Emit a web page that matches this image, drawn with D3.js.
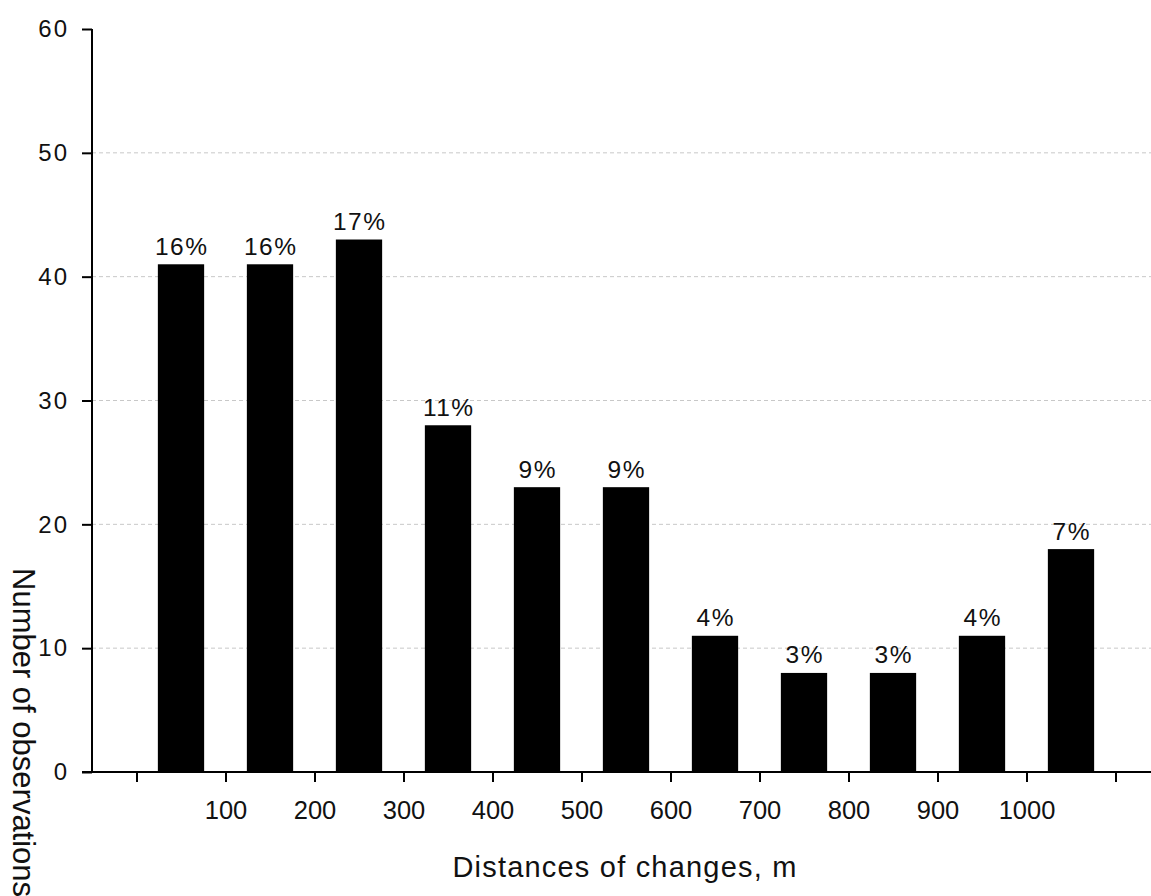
<!DOCTYPE html>
<html>
<head>
<meta charset="utf-8">
<script src="https://cdn.jsdelivr.net/npm/d3@7"></script>
<style>
  html, body { margin: 0; padding: 0; background: #fff; }
  svg { display: block; font-family: "Liberation Sans", Arial, sans-serif; }
</style>
</head>
<body>
<svg id="chart" width="1151" height="896"></svg>
<script>
// Bin start (m), counts and percentage labels
const binStarts = [0, 100, 200, 300, 400, 500, 600, 700, 800, 900, 1000];
const counts = [41, 41, 43, 28, 23, 23, 11, 8, 8, 11, 18];
const percentLabels = ["16%", "16%", "17%", "11%", "9%", "9%", "4%", "3%", "3%", "4%", "7%"];
const xTickValues = [0, 100, 200, 300, 400, 500, 600, 700, 800, 900, 1000, 1100];
const xTickLabels = ["", "100", "200", "300", "400", "500", "600", "700", "800", "900", "1000", ""];
const yTickValues = [0, 10, 20, 30, 40, 50, 60];
const gridValues = [10, 20, 30, 40, 50];

const svg = d3.select("#chart");

const x = d3.scaleLinear().domain([0, 1100]).range([136.5, 1115.5]);
const y = d3.scaleLinear().domain([0, 60]).range([772, 29]);

const axisLeftX = 92;
const axisRightX = 1151;
const binWidth = 100;
const barFrac = 0.52;

// Gridlines
svg.append("g")
  .selectAll("line")
  .data(gridValues)
  .join("line")
  .attr("x1", axisLeftX)
  .attr("x2", axisRightX)
  .attr("y1", d => y(d))
  .attr("y2", d => y(d))
  .attr("stroke", "#c8c8c8")
  .attr("stroke-width", 1)
  .attr("stroke-dasharray", "4,3");

// Bars
const bw = (x(binWidth) - x(0)) * barFrac;
svg.append("g")
  .selectAll("rect")
  .data(binStarts)
  .join("rect")
  .attr("x", (d) => x(d + binWidth / 2) - bw / 2)
  .attr("width", bw)
  .attr("y", (d, i) => y(counts[i]))
  .attr("height", (d, i) => y(0) - y(counts[i]))
  .attr("fill", "#000");

// Percent labels
svg.append("g")
  .selectAll("text")
  .data(binStarts)
  .join("text")
  .attr("x", d => x(d + binWidth / 2) + 0.75)
  .attr("y", (d, i) => y(counts[i]) - 9.5)
  .attr("text-anchor", "middle")
  .attr("font-size", 24.5)
  .attr("letter-spacing", 1.5)
  .attr("fill", "#111")
  .text((d, i) => percentLabels[i]);

// X axis
const xAxis = d3.axisBottom(x)
  .tickValues(xTickValues)
  .tickSize(10)
  .tickPadding(19)
  .tickFormat((d, i) => xTickLabels[i]);
const gx = svg.append("g").attr("transform", `translate(0,${y(0)})`).call(xAxis);
gx.select(".domain").remove();
gx.selectAll(".tick line").attr("stroke", "#000").attr("stroke-width", 2);
gx.selectAll(".tick text").attr("font-size", 25.5).attr("fill", "#111")
  .attr("font-family", "'Liberation Sans', Arial, sans-serif");
gx.append("line")
  .attr("x1", 82).attr("x2", axisRightX)
  .attr("y1", 0).attr("y2", 0)
  .attr("stroke", "#000").attr("stroke-width", 2);

// Y axis
const yAxis = d3.axisLeft(y)
  .tickValues(yTickValues)
  .tickSize(10)
  .tickPadding(13)
  .tickFormat(d3.format("d"));
const gy = svg.append("g").attr("transform", `translate(${axisLeftX},0)`).call(yAxis);
gy.select(".domain").remove();
gy.selectAll(".tick line").attr("stroke", "#000").attr("stroke-width", 2);
gy.selectAll(".tick text").attr("font-size", 24).attr("letter-spacing", 2).attr("fill", "#111")
  .attr("font-family", "'Liberation Sans', Arial, sans-serif");
gy.append("line")
  .attr("x1", 0).attr("x2", 0)
  .attr("y1", y(60)).attr("y2", y(0))
  .attr("stroke", "#000").attr("stroke-width", 2);

// Axis titles
svg.append("text")
  .attr("x", 625)
  .attr("y", 877)
  .attr("text-anchor", "middle")
  .attr("font-size", 29)
  .attr("letter-spacing", 1.2)
  .attr("fill", "#111")
  .text("Distances of changes, m");

svg.append("text")
  .attr("transform", "translate(13,568) rotate(90)")
  .attr("text-anchor", "start")
  .attr("font-size", 31)
  .attr("fill", "#111")
  .text("Number of observations");
</script>
</body>
</html>
